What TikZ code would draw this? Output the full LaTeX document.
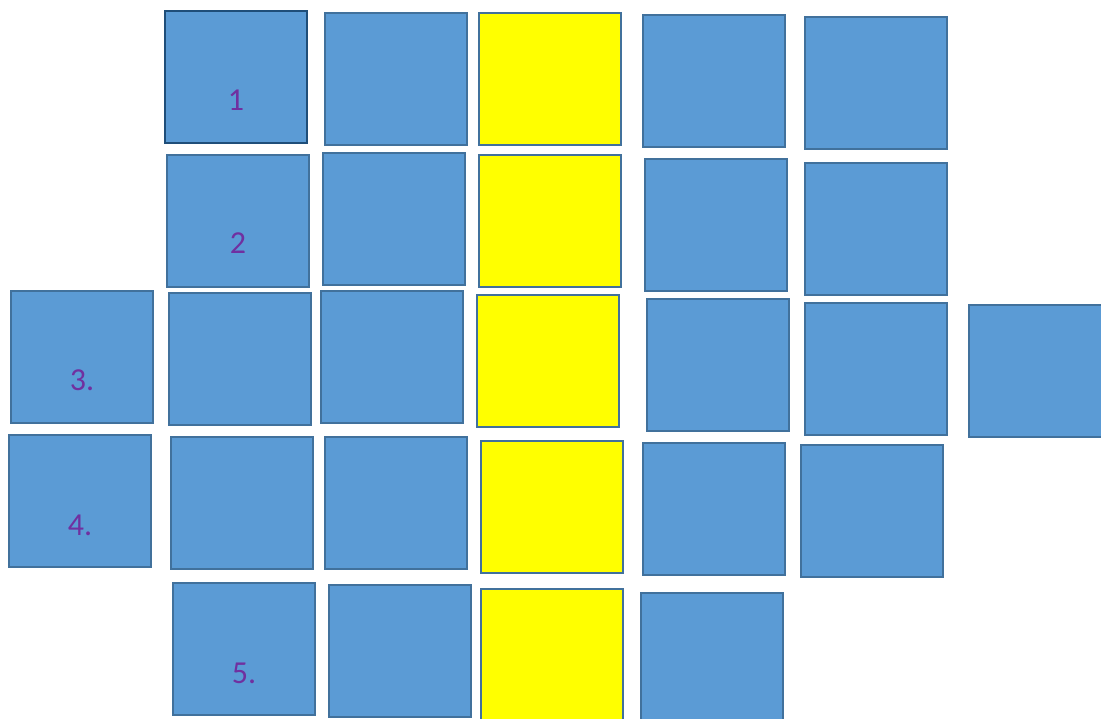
\documentclass[tikz,border=0pt]{standalone}
\usepackage{fontspec}
\setmainfont{Carlito}
\usetikzlibrary{positioning}
\definecolor{tilefill}{HTML}{5B9BD5}
\definecolor{tileline}{HTML}{41719C}
\definecolor{tiledark}{HTML}{1F4E79}
\definecolor{goldfill}{HTML}{FFFF00}
\definecolor{numcol}{HTML}{7030A0}
\begin{document}
\begin{tikzpicture}[x=1pt,y=-1pt,
	tile/.style={draw=tileline,fill=tilefill,line width=2.6pt,minimum width=142pt,minimum height=132pt,inner sep=0pt},
	gold/.style={tile,fill=goldfill},
	num/.style={text=numcol,font=\fontsize{32}{32}\selectfont}]
	\useasboundingbox (0,0) rectangle (1101,719);
	\clip (0,0) rectangle (1101,719);
	% row 1
	\node[tile,draw=tiledark] (a1) at (236,77) {};
	\node[tile] (b1) at (396,79) {};
	\node[gold] (c1) at (550,79) {};
	\node[tile] (d1) at (714,81) {};
	\node[tile] (e1) at (876,83) {};
	% row 2
	\node[tile] (a2) at (238,221) {};
	\node[tile] (b2) at (394,219) {};
	\node[gold] (c2) at (550,221) {};
	\node[tile] (d2) at (716,225) {};
	\node[tile] (e2) at (876,229) {};
	% row 3
	\node[tile] (l3) at (82,357) {};
	\node[tile] (a3) at (240,359) {};
	\node[tile] (b3) at (392,357) {};
	\node[gold] (c3) at (548,361) {};
	\node[tile] (d3) at (718,365) {};
	\node[tile] (e3) at (876,369) {};
	\node[tile] (f3) at (1040,371) {};
	% row 4
	\node[tile] (l4) at (80,501) {};
	\node[tile] (a4) at (242,503) {};
	\node[tile] (b4) at (396,503) {};
	\node[gold] (c4) at (552,507) {};
	\node[tile] (d4) at (714,509) {};
	\node[tile] (e4) at (872,511) {};
	% row 5
	\node[tile] (a5) at (244,649) {};
	\node[tile] (b5) at (400,651) {};
	\node[gold] (c5) at (552,655) {};
	\node[tile] (d5) at (712,659) {};
	% numbers
	\node[num] (n1) at ([yshift=-23pt]a1.center) {1};
	\node[num] (n2) at ([yshift=-22pt]a2.center) {2};
	\node[num] (n3) at ([yshift=-23pt]l3.center) {3.};
	\node[num] (n4) at ([yshift=-24pt]l4.center) {4.};
	\node[num] (n5) at ([yshift=-24pt]a5.center) {5.};
\end{tikzpicture}
\end{document}
